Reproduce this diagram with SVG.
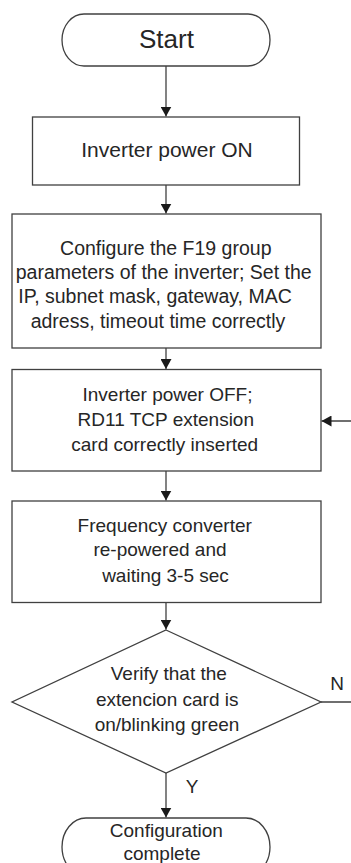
<svg xmlns="http://www.w3.org/2000/svg" width="351" height="863" viewBox="0 0 351 863">
<style>
.shape{fill:#ffffff;stroke:#404040;stroke-width:1.3}
.conn{fill:none;stroke:#404040;stroke-width:1.3}
text{font-family:"Liberation Sans",Arial,sans-serif;fill:#262626;text-anchor:middle}
.t19{font-size:19px}
.t195{font-size:19.5px}
.t21{font-size:21px}
.t26{font-size:26px}
</style>
<defs>
<marker id="arr" markerUnits="userSpaceOnUse" markerWidth="11" markerHeight="11" refX="10" refY="5.5" orient="auto">
<path d="M0,0 L10,5.5 L0,11 Z" fill="#1a1a1a"/>
</marker>
</defs>
<rect width="351" height="863" fill="#ffffff"/>
<g id="connectors">
<path class="conn" d="M166,66 V116.5" marker-end="url(#arr)"/>
<path class="conn" d="M166,185 V213.5" marker-end="url(#arr)"/>
<path class="conn" d="M166,348 V369" marker-end="url(#arr)"/>
<path class="conn" d="M166,471 V500.5" marker-end="url(#arr)"/>
<path class="conn" d="M166,602.5 V629.5" marker-end="url(#arr)"/>
<path class="conn" d="M166,773 V817.5" marker-end="url(#arr)"/>
<path class="conn" d="M321,702 H362 V421 H321.5" marker-end="url(#arr)"/>
<text class="t19" x="192" y="792.5">Y</text>
<text class="t19" x="337" y="689.5">N</text>
</g>
<g id="start">
<rect class="shape" x="62" y="14" width="208" height="52" rx="22" ry="26"/>
<text class="t26" x="166.5" y="48.3">Start</text>
</g>
<g id="power-on">
<rect class="shape" x="32.5" y="117" width="267" height="68"/>
<text class="t21" x="167" y="157">Inverter power ON</text>
</g>
<g id="configure">
<rect class="shape" x="12" y="214" width="309" height="134"/>
<text class="t195" x="165.8" y="255">Configure the F19 group</text>
<text class="t195" x="163.7" y="279">parameters of the inverter; Set the</text>
<text class="t195" x="155" y="303">IP, subnet mask, gateway, MAC</text>
<text class="t195" x="158" y="327.5">adress, timeout time correctly</text>
</g>
<g id="power-off">
<rect class="shape" x="12" y="369.5" width="309" height="101.5"/>
<text class="t19" x="167.5" y="401">Inverter power OFF;</text>
<text class="t19" x="165.8" y="425.5">RD11 TCP extension</text>
<text class="t19" x="164.7" y="450.5">card correctly inserted</text>
</g>
<g id="repower">
<rect class="shape" x="12" y="501" width="309" height="101.5"/>
<text class="t19" x="164.7" y="531.7">Frequency converter</text>
<text class="t19" x="160" y="556">re-powered and</text>
<text class="t19" x="165.5" y="581.7">waiting 3-5 sec</text>
</g>
<g id="verify">
<polygon class="shape" points="166,630 321,702 166,773 12,702"/>
<text class="t19" x="168.8" y="680">Verify that the</text>
<text class="t19" x="167.2" y="706">extencion card is</text>
<text class="t19" x="167" y="730.5">on/blinking green</text>
</g>
<g id="complete">
<rect class="shape" x="62" y="818" width="208" height="58" rx="24" ry="29"/>
<text class="t19" x="166.3" y="837.3">Configuration</text>
<text class="t19" x="162" y="860">complete</text>
</g>
</svg>
